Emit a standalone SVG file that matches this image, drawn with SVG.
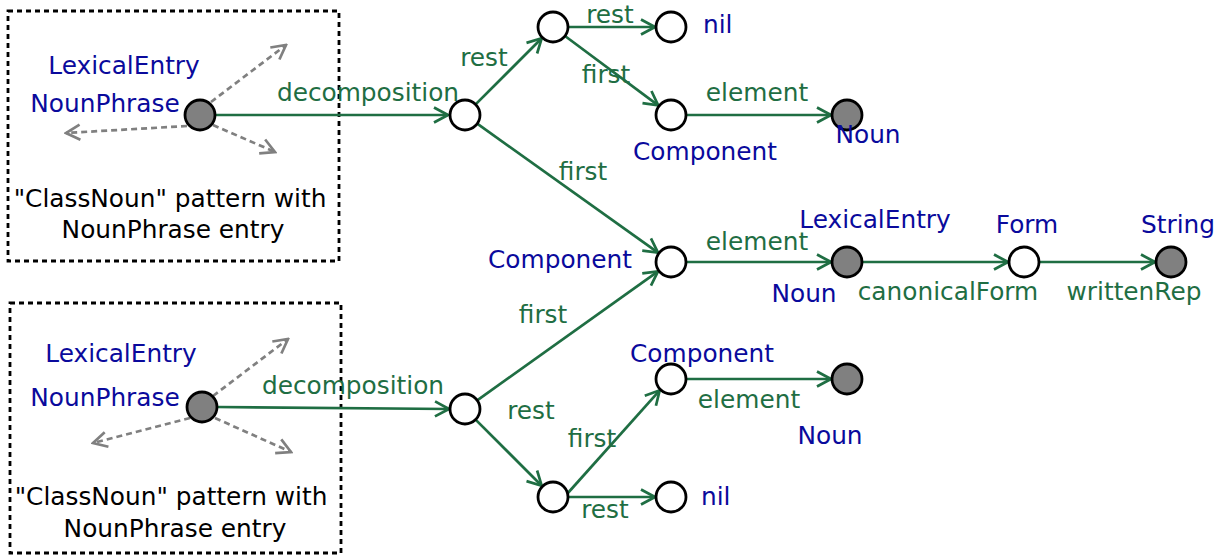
<svg xmlns="http://www.w3.org/2000/svg" width="1221" height="556" viewBox="0 0 1221 556">
<style>
text{font-family:"DejaVu Sans",Verdana,sans-serif;font-size:24.8px}
.b{fill:#0a0a9c}
.g{fill:#1f6e43}
.k{fill:#000}
.m{text-anchor:middle}
.n{fill:#fff;stroke:#000;stroke-width:2.8}
.f{fill:#808080;stroke:#000;stroke-width:2.8}
.e{stroke:#1f6e43;stroke-width:2.7;fill:none;marker-end:url(#ag)}
.d{stroke:#808080;stroke-width:2.7;fill:none;stroke-dasharray:6,4;marker-end:url(#ad)}
.box{fill:none;stroke:#000;stroke-width:2.8;stroke-dasharray:5,4}
</style>
<defs>
<marker id="ag" viewBox="-17 -10 19 20" refX="0" refY="0" markerWidth="19" markerHeight="20" orient="auto" markerUnits="userSpaceOnUse"><path d="M-14,-7.5 L0,0 L-14,7.5" fill="none" stroke="#1f6e43" stroke-width="2.7"/></marker>
<marker id="ad" viewBox="-17 -10 19 20" refX="0" refY="0" markerWidth="19" markerHeight="20" orient="auto" markerUnits="userSpaceOnUse"><path d="M-14,-7.5 L0,0 L-14,7.5" fill="none" stroke="#808080" stroke-width="2.7"/></marker>
</defs>
<g id="box1">
<rect class="box" x="8" y="11" width="331" height="250"/>
<text class="k m" x="170" y="207">"ClassNoun" pattern with</text>
<text class="k m" x="173" y="238">NounPhrase entry</text>
</g>
<g id="box2">
<rect class="box" x="10" y="303" width="331" height="250"/>
<text class="k m" x="171" y="505">"ClassNoun" pattern with</text>
<text class="k m" x="175" y="537">NounPhrase entry</text>
</g>
<g id="connectors">
<line class="d" x1="211" y1="102" x2="286" y2="45"/>
<line class="d" x1="187" y1="126" x2="66" y2="133"/>
<line class="d" x1="213" y1="125" x2="275" y2="152"/>
<line class="d" x1="213" y1="396" x2="288" y2="339"/>
<line class="d" x1="190" y1="418" x2="93" y2="443"/>
<line class="d" x1="215" y1="418" x2="291" y2="452"/>
<line class="e" x1="215" y1="115" x2="448" y2="115"/>
<line class="e" x1="475.6" y1="104.4" x2="541.7" y2="38.3"/>
<line class="e" x1="568" y1="27" x2="655" y2="27"/>
<line class="e" x1="565" y1="36" x2="658.2" y2="105.4"/>
<line class="e" x1="686" y1="115" x2="831" y2="115"/>
<line class="e" x1="477.2" y1="123.7" x2="658" y2="252.7"/>
<line class="e" x1="686" y1="262" x2="831" y2="262"/>
<line class="e" x1="862" y1="262" x2="1008" y2="262"/>
<line class="e" x1="1039" y1="262" x2="1155" y2="262"/>
<line class="e" x1="217" y1="407" x2="449" y2="409"/>
<line class="e" x1="477.2" y1="400.3" x2="658" y2="271.3"/>
<line class="e" x1="475.6" y1="419.6" x2="541.7" y2="485.7"/>
<line class="e" x1="567" y1="494" x2="659.7" y2="390.3"/>
<line class="e" x1="686" y1="379" x2="831" y2="379"/>
<line class="e" x1="568" y1="497" x2="655" y2="497"/>
<text class="g m" x="368" y="101">decomposition</text>
<text class="g m" x="484" y="66">rest</text>
<text class="g m" x="610" y="23">rest</text>
<text class="g m" x="606" y="83">first</text>
<text class="g m" x="757" y="101">element</text>
<text class="g m" x="583" y="180">first</text>
<text class="g m" x="757" y="250">element</text>
<text class="g m" x="948" y="300">canonicalForm</text>
<text class="g m" x="1134" y="300">writtenRep</text>
<text class="g m" x="543" y="323">first</text>
<text class="g m" x="353" y="394">decomposition</text>
<text class="g m" x="531" y="419">rest</text>
<text class="g m" x="749" y="408">element</text>
<text class="g m" x="592" y="447">first</text>
<text class="g m" x="605" y="518">rest</text>
</g>
<g id="A1"><circle class="f" cx="200" cy="115" r="15"/><text class="b m" x="124" y="74">LexicalEntry</text><text class="b m" x="105" y="112">NounPhrase</text></g>
<g id="B1"><circle class="n" cx="465" cy="115" r="15"/></g>
<g id="C1"><circle class="n" cx="553" cy="27" r="15"/></g>
<g id="nil1"><circle class="n" cx="671" cy="27" r="15"/><text class="b" x="703" y="33">nil</text></g>
<g id="comp1"><circle class="n" cx="671" cy="115" r="15"/><text class="b m" x="705" y="160">Component</text></g>
<g id="noun1"><circle class="f" cx="847" cy="115" r="15"/><text class="b m" x="868" y="143">Noun</text></g>
<g id="comp2"><circle class="n" cx="671" cy="262" r="15"/><text class="b m" x="560" y="268">Component</text></g>
<g id="noun2"><circle class="f" cx="847" cy="262" r="15"/><text class="b m" x="875" y="228">LexicalEntry</text><text class="b m" x="804" y="302">Noun</text></g>
<g id="form"><circle class="n" cx="1024" cy="262" r="15"/><text class="b m" x="1027" y="233">Form</text></g>
<g id="string"><circle class="f" cx="1171" cy="262" r="15"/><text class="b m" x="1178" y="233">String</text></g>
<g id="A2"><circle class="f" cx="202" cy="407" r="15"/><text class="b m" x="121" y="362">LexicalEntry</text><text class="b m" x="105" y="406">NounPhrase</text></g>
<g id="B2"><circle class="n" cx="465" cy="409" r="15"/></g>
<g id="comp3"><circle class="n" cx="671" cy="379" r="15"/><text class="b m" x="702" y="362">Component</text></g>
<g id="noun3"><circle class="f" cx="847" cy="379" r="15"/><text class="b m" x="830" y="444">Noun</text></g>
<g id="C2"><circle class="n" cx="553" cy="497" r="15"/></g>
<g id="nil2"><circle class="n" cx="671" cy="497" r="15"/><text class="b" x="701" y="505">nil</text></g>
</svg>
